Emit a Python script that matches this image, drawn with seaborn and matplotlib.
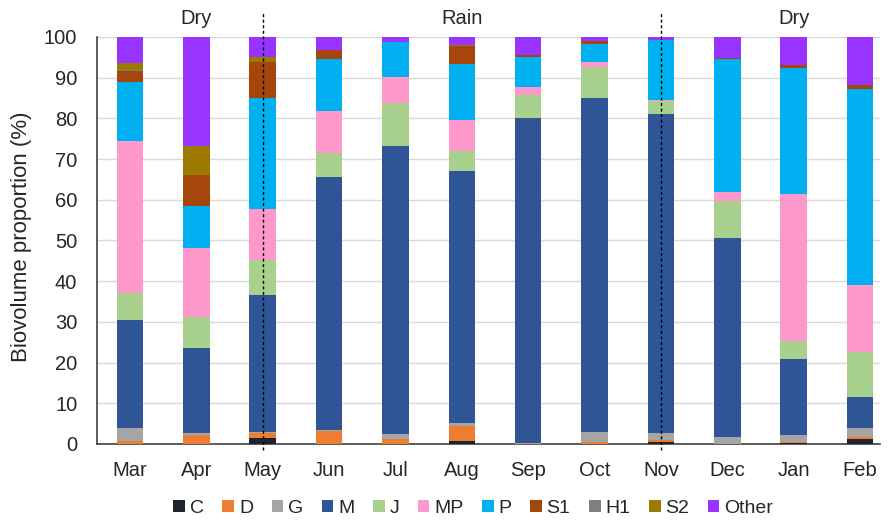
import numpy as np
import pandas as pd
import matplotlib.pyplot as plt
import seaborn as sns
from matplotlib.patches import Patch

# months and groups
months = ['Mar', 'Apr', 'May', 'Jun', 'Jul', 'Aug', 'Sep', 'Oct', 'Nov', 'Dec', 'Jan', 'Feb']
groups = ['C', 'D', 'G', 'M', 'J', 'MP', 'P', 'S1', 'H1', 'S2', 'Other']
colors = ['#1f2330', '#ed7d31', '#a5a5a5', '#2f5597', '#a9d18e', '#ff99cc',
          '#00b0f0', '#a5460c', '#7f7f7f', '#9c7a00', '#9933ff']

# biovolume proportion (%) per group, one value per month
C     = [0.0, 0.0, 1.5, 0.0, 0.0, 0.7, 0.0, 0.0, 0.5, 0.0, 0.3, 1.2]
D     = [0.7, 2.3, 1.1, 3.1, 1.3, 3.8, 0.0, 0.5, 0.5, 0.0, 0.2, 0.6]
G     = [3.2, 0.4, 0.3, 0.3, 1.1, 0.7, 0.2, 2.5, 1.7, 1.6, 1.6, 2.0]
M     = [26.6, 20.8, 33.7, 62.2, 70.8, 61.9, 79.9, 82.0, 78.3, 49.0, 18.8, 7.8]
J     = [6.5, 7.7, 8.6, 5.9, 10.7, 4.9, 5.6, 7.7, 3.3, 9.1, 4.5, 11.1]
MP    = [37.4, 17.0, 12.6, 10.2, 6.3, 7.5, 2.1, 1.1, 0.2, 2.1, 35.9, 16.4]
P     = [14.5, 10.3, 27.2, 12.8, 8.6, 13.8, 7.4, 4.6, 14.8, 32.7, 31.2, 48.1]
S1    = [2.8, 7.6, 8.9, 2.3, 0.0, 4.4, 0.4, 0.6, 0.0, 0.3, 0.6, 1.0]
H1    = [0.3, 0.0, 0.0, 0.0, 0.0, 0.0, 0.0, 0.0, 0.0, 0.0, 0.0, 0.0]
S2    = [1.5, 7.1, 1.3, 0.0, 0.0, 0.3, 0.0, 0.0, 0.0, 0.0, 0.0, 0.0]
Other = [6.5, 26.8, 4.8, 3.2, 1.2, 2.0, 4.4, 1.0, 0.7, 5.2, 6.9, 11.8]

# season labels and boundaries
season_names = ['Dry', 'Rain', 'Dry']
season_label_at = ['Apr', 'Aug', 'Jan']
season_breaks = ['May', 'Nov']

df = pd.DataFrame({'C': C, 'D': D, 'G': G, 'M': M, 'J': J, 'MP': MP, 'P': P,
                   'S1': S1, 'H1': H1, 'S2': S2, 'Other': Other}, index=months)
cum = df[groups].cumsum(axis=1)

sns.set_style('white')
plt.rcParams['font.family'] = ['Liberation Sans', 'DejaVu Sans']

fig = plt.figure(figsize=(8.88, 5.21), dpi=100)
ax = fig.add_axes([0.109, 0.148, 0.882, 0.781])

# stacked bars: draw cumulative tops from the top layer down
for g, c in reversed(list(zip(groups, colors))):
    sns.barplot(x=months, y=cum[g].values, order=months, color=c, width=0.4,
                saturation=1, edgecolor='none', linewidth=0, ax=ax, zorder=3)

ax.set_ylim(0, 100)
ax.set_xlim(-0.5, 11.3)
ax.set_yticks(range(0, 101, 10))
ax.yaxis.grid(True, color='#d9d9d9', lw=1)
ax.set_axisbelow(True)
for s in ['top', 'right']:
    ax.spines[s].set_visible(False)
for s in ['left', 'bottom']:
    ax.spines[s].set_color('#404040')
    ax.spines[s].set_linewidth(1.2)
ax.tick_params(axis='both', labelsize=14.5, length=0)
ax.tick_params(axis='x', pad=12)
ax.tick_params(axis='y', pad=14)
ax.set_ylabel('Biovolume proportion (%)', fontsize=16)
ax.yaxis.set_label_coords(-0.083, 0.51)
ax.set_xlabel('')

# season dividers and labels
for m in season_breaks:
    i = months.index(m)
    ax.plot([i, i], [-1.5, 105.8], color='black', lw=1, ls=(0, (2.2, 1.8)),
            clip_on=False, zorder=5)
for name, m in zip(season_names, season_label_at):
    ax.text(months.index(m), 104.6, name, ha='center', va='center', fontsize=14.5)

handles = [Patch(facecolor=c, edgecolor='none') for c in colors]
fig.legend(handles, groups, loc='lower center', bbox_to_anchor=(0.533, -0.026),
           ncol=11, frameon=False, fontsize=14, handlelength=0.6, handleheight=0.6,
           handletextpad=0.25, columnspacing=0.95)

fig.savefig('out.png', dpi=100)
